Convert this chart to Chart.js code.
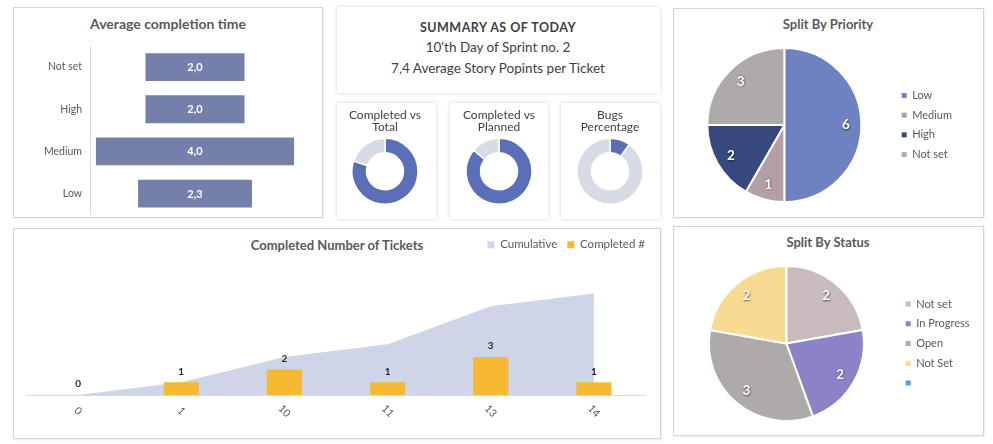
<!DOCTYPE html>
<html><head><meta charset="utf-8">
<script src="https://cdn.jsdelivr.net/npm/chart.js@4.4.1/dist/chart.umd.min.js"></script>
<style>
html,body{margin:0;padding:0;background:#fff;}
body{width:993px;height:444px;position:relative;overflow:hidden;font-family:Lato,'Open Sans',sans-serif;}
.panel{position:absolute;box-sizing:border-box;border:1px solid #ddd0d4;box-shadow:1px 1px 2px rgba(0,0,0,0.07);background:#fff;}
.card{position:absolute;box-sizing:border-box;box-shadow:0 0 4px rgba(0,0,0,0.18);background:#fff;}
canvas{position:absolute;}
.ttl{position:absolute;font-weight:bold;color:#595959;white-space:nowrap;transform:translate(-50%,-50%);line-height:1;}
.sum{position:absolute;color:#404040;white-space:nowrap;transform:translate(-50%,-50%);line-height:1;}
</style></head><body>
<div class="panel" style="left:13px;top:7px;width:310px;height:211px"></div>
<div class="card" style="left:337px;top:7px;width:323px;height:86px"></div>
<div class="card" style="left:337px;top:103px;width:99px;height:116px"></div>
<div class="card" style="left:450px;top:103px;width:98px;height:116px"></div>
<div class="card" style="left:561px;top:103px;width:99px;height:116px"></div>
<div class="panel" style="left:673px;top:8px;width:311px;height:210px"></div>
<div class="panel" style="left:13px;top:228px;width:648px;height:211px"></div>
<div class="panel" style="left:673px;top:226px;width:311px;height:210px"></div>

<div class="ttl" style="left:168px;top:24px;font-size:14px">Average completion time</div>
<div class="ttl" style="left:828px;top:24px;font-size:13px">Split By Priority</div>
<div class="ttl" style="left:337px;top:245px;font-size:13px">Completed Number of Tickets</div>
<div class="ttl" style="left:828px;top:242px;font-size:13px">Split By Status</div>

<div class="sum" style="left:498px;top:28px;font-size:12.5px;font-weight:bold;letter-spacing:0.5px">SUMMARY AS OF TODAY</div>
<div class="sum" style="left:498px;top:48px;font-size:13.5px">10'th Day of Sprint no. 2</div>
<div class="sum" style="left:498px;top:69px;font-size:13.5px">7,4 Average Story Popints per Ticket</div>

<canvas id="c1" width="308" height="221" style="left:14px;top:8px"></canvas>
<canvas id="d1" width="99" height="115" style="left:337px;top:103px"></canvas>
<canvas id="d2" width="98" height="115" style="left:450px;top:103px"></canvas>
<canvas id="d3" width="99" height="115" style="left:561px;top:103px"></canvas>
<canvas id="c3" width="308" height="207" style="left:674px;top:9px"></canvas>
<canvas id="c4" width="645" height="208" style="left:14px;top:229px"></canvas>
<canvas id="c5" width="308" height="207" style="left:674px;top:227px"></canvas>

<script>
// ---------- data ----------
const avgCategories = ['Not set', 'High', 'Medium', 'Low'];
const avgValues = [2.0, 2.0, 4.0, 2.3];

const donutLabels = ['Completed', 'Remaining'];
const completedVsTotal = [80, 20];
const completedVsPlanned = [86, 14];
const bugLabels = ['Bugs', 'Other'];
const bugsPercentage = [10, 90];

const priorityLabels = ['Low', 'Medium', 'High', 'Not set'];
const priorityValues = [6, 1, 2, 3];

const ticketDays = ['0', '1', '10', '11', '13', '14'];
const completedValues = [0, 1, 2, 1, 3, 1];
const cumulativeValues = [0, 1, 3, 4, 7, 8];

const statusLabels = ['Not set', 'In Progress', 'Open', 'Not Set', ''];
const statusValues = [2, 2, 3, 2, 0];

// ---------- setup ----------
const FONT = "Lato, 'Open Sans', sans-serif";
Chart.defaults.font.family = FONT;
Chart.defaults.color = '#595959';
Chart.defaults.animation = false;
Chart.defaults.responsive = false;
Chart.defaults.plugins.tooltip.enabled = false;

// ---------- average completion time (centered bars) ----------
const funnelLabels = {
  id: 'funnelLabels',
  afterDatasetsDraw(chart) {
    const ctx = chart.ctx;
    chart.getDatasetMeta(0).data.forEach((bar, i) => {
      const p = bar.getProps(['x', 'y', 'base'], true);
      ctx.save();
      ctx.font = 'bold 11px ' + FONT;
      ctx.fillStyle = '#ffffff';
      ctx.textAlign = 'center';
      ctx.textBaseline = 'middle';
      ctx.fillText(avgValues[i].toFixed(1).replace('.', ','), (p.x + p.base) / 2, p.y + 0.5);
      ctx.restore();
    });
  }
};
new Chart(document.getElementById('c1'), {
  type: 'bar',
  data: {
    labels: avgCategories,
    datasets: [{
      data: avgValues.map(v => [-v / 2, v / 2]),
      backgroundColor: '#7480a9',
      categoryPercentage: 1,
      barPercentage: 0.66
    }]
  },
  options: {
    indexAxis: 'y',
    layout: { padding: { left: 14, right: 22, top: 38, bottom: 2 } },
    plugins: { legend: { display: false } },
    scales: {
      x: { display: false, min: -2.12, max: 2.12 },
      y: {
        grid: { display: false, drawTicks: false },
        border: { color: '#d9d9d9' },
        ticks: { color: '#595959', font: { size: 10.5 }, padding: 8 },
        afterFit: s => { s.width = 62; }
      }
    }
  },
  plugins: [funnelLabels]
});

// ---------- small doughnuts ----------
function donut(id, title, labels, values, colors, padR) {
  new Chart(document.getElementById(id), {
    type: 'doughnut',
    data: { labels: labels, datasets: [{ data: values, backgroundColor: colors, borderColor: '#ffffff', borderWidth: 1.5 }] },
    options: {
      cutout: '56%',
      layout: { padding: { left: 0, right: padR, top: 0, bottom: 13 } },
      plugins: {
        legend: { display: false },
        title: { display: true, text: title, color: '#404040', font: { size: 12, weight: 'normal', lineHeight: 1.0 }, padding: { top: 6, bottom: 4.5 } }
      }
    }
  });
}
donut('d1', ['Completed vs', 'Total'], donutLabels, completedVsTotal, ['#5a6fb8', '#d6dce6'], 3);
donut('d2', ['Completed vs', 'Planned'], donutLabels, completedVsPlanned, ['#5a6fb8', '#d6dce6'], 0);
donut('d3', ['Bugs', 'Percentage'], bugLabels, bugsPercentage, ['#5a6fb8', '#d6dce6'], 1);

// ---------- pies ----------
const pieLabels = {
  id: 'pieLabels',
  afterDatasetsDraw(chart) {
    const ctx = chart.ctx;
    const vals = chart.data.datasets[0].data;
    chart.getDatasetMeta(0).data.forEach((arc, i) => {
      if (!vals[i]) return;
      const p = arc.getProps(['x', 'y', 'startAngle', 'endAngle', 'outerRadius'], true);
      const mid = (p.startAngle + p.endAngle) / 2;
      const r = p.outerRadius * 0.8;
      ctx.save();
      ctx.font = 'bold 13.5px ' + FONT;
      ctx.fillStyle = '#ffffff';
      ctx.textAlign = 'center';
      ctx.textBaseline = 'middle';
      ctx.shadowColor = 'rgba(0,0,0,0.6)';
      ctx.shadowBlur = 2;
      ctx.shadowOffsetX = 0.5;
      ctx.shadowOffsetY = 0.5;
      ctx.fillText(String(vals[i]), p.x + Math.cos(mid) * r, p.y + Math.sin(mid) * r);
      ctx.restore();
    });
  }
};
function pie(id, labels, values, colors, pad) {
  new Chart(document.getElementById(id), {
    type: 'pie',
    data: { labels: labels, datasets: [{ data: values, backgroundColor: colors, borderColor: '#ffffff', borderWidth: 2 }] },
    options: {
      layout: { padding: pad },
      plugins: {
        legend: {
          position: 'right',
          labels: {
            color: '#595959',
            font: { size: 11 },
            boxWidth: 5,
            boxHeight: 5,
            padding: 8.7,
            generateLabels: chart => Chart.overrides.doughnut.plugins.legend.labels.generateLabels(chart).map(l => Object.assign(l, { lineWidth: 0 }))
          }
        }
      }
    },
    plugins: [pieLabels]
  });
}
pie('c3', priorityLabels, priorityValues, ['#6e82c1', '#b49fa7', '#37487f', '#aeaaaa'], { left: 1.7, right: 20, top: 38, bottom: 13 });
pie('c5', statusLabels, statusValues, ['#c9babf', '#8b83c6', '#aeaaaa', '#f9da92', '#5b9bd5'], { left: 1.7, right: 2.5, top: 38, bottom: 12 });

// ---------- completed number of tickets ----------
const ticketLabels = {
  id: 'ticketLabels',
  afterDatasetsDraw(chart) {
    const ctx = chart.ctx;
    ctx.save();
    ctx.font = 'bold 10px ' + FONT;
    ctx.fillStyle = '#262626';
    ctx.textAlign = 'center';
    ctx.textBaseline = 'middle';
    chart.getDatasetMeta(1).data.forEach((bar, i) => {
      const p = bar.getProps(['x', 'y'], true);
      ctx.fillText(String(completedValues[i]), p.x, p.y - 11);
    });
    ctx.restore();
    const xs = chart.scales.x;
    ctx.save();
    ctx.font = '10.5px ' + FONT;
    ctx.fillStyle = '#595959';
    ctx.textAlign = 'center';
    ctx.textBaseline = 'middle';
    ticketDays.forEach((lab, i) => {
      ctx.save();
      ctx.translate(xs.getPixelForTick(i), chart.chartArea.bottom + 16);
      ctx.rotate(Math.PI / 4);
      ctx.fillText(lab, 0, 0);
      ctx.restore();
    });
    ctx.restore();
  }
};
new Chart(document.getElementById('c4'), {
  type: 'bar',
  data: {
    labels: ticketDays,
    datasets: [
      { type: 'line', label: 'Cumulative', data: cumulativeValues, fill: 'origin', backgroundColor: '#cfd5e8', borderColor: '#cfd5e8', borderWidth: 0, pointRadius: 0, tension: 0, order: 2 },
      { type: 'bar', label: 'Completed #', data: completedValues, backgroundColor: '#f7b932', categoryPercentage: 1, barPercentage: 0.34, order: 1 }
    ]
  },
  options: {
    layout: { padding: { left: 12.5, right: 4, top: 0, bottom: 0 } },
    plugins: {
      legend: {
        position: 'top',
        align: 'end',
        labels: {
          color: '#595959',
          font: { size: 11.5 },
          boxWidth: 7,
          boxHeight: 7,
          padding: 10,
          sort: (a, b) => a.datasetIndex - b.datasetIndex
        }
      }
    },
    scales: {
      x: {
        grid: { display: false, drawTicks: false },
        border: { color: '#d9d9d9' },
        ticks: { display: false },
        afterFit: s => { s.height = 42; }
      },
      y: { display: false, min: 0, max: 10.6 },
      y2: {
        position: 'right',
        grid: { display: false, drawTicks: false },
        border: { display: false },
        ticks: { display: false },
        afterFit: s => { s.width = 9.5; }
      }
    }
  },
  plugins: [ticketLabels]
});
</script>
</body></html>
